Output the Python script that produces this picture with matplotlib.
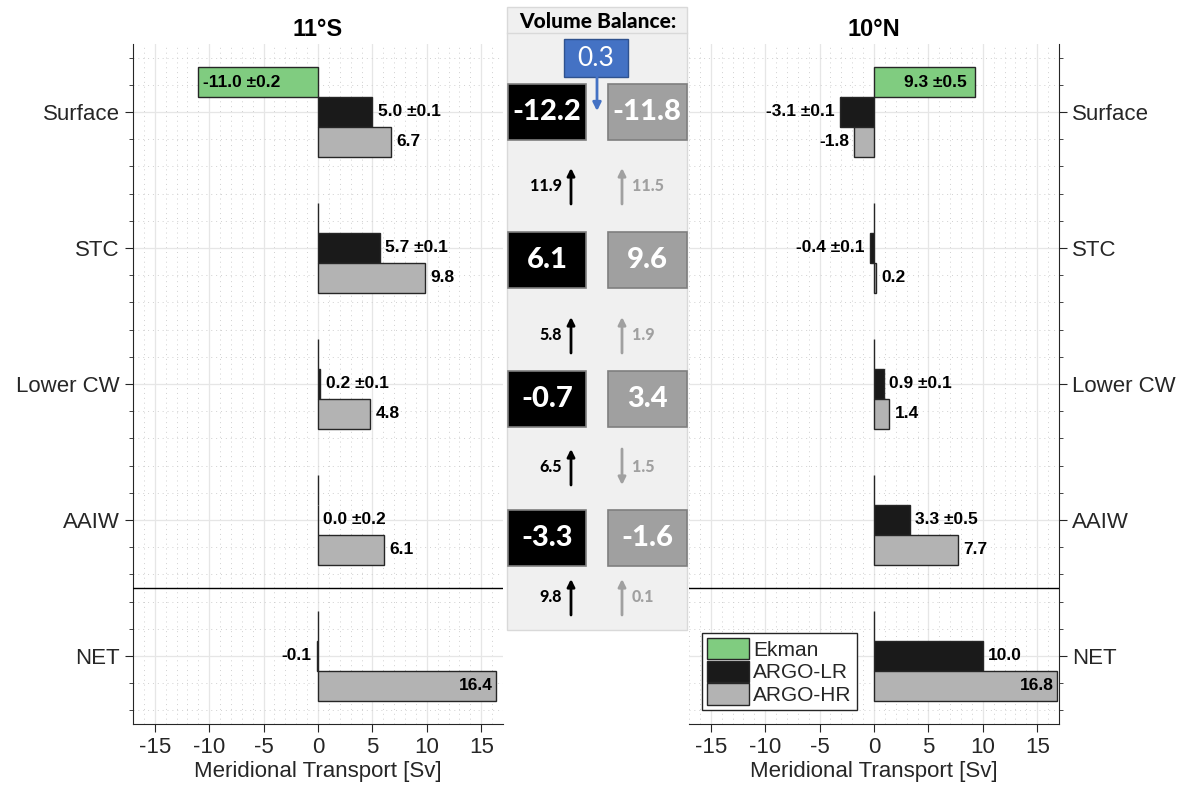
import numpy as np
import matplotlib
matplotlib.use("Agg")
import matplotlib.pyplot as plt
from matplotlib.patches import Rectangle, Patch

plt.rcParams['font.family'] = ['Liberation Sans', 'DejaVu Sans']
plt.rcParams['axes.unicode_minus'] = False

categories = ["Surface", "STC", "Lower CW", "AAIW", "NET"]

# 11°S
ekman_s  = [-11.0, 0, 0, 0, 0]
ekman_s_err = [0.2, None, None, None, None]
lr_s     = [5.0, 5.7, 0.2, 0.0, -0.1]
lr_s_err = [0.1, 0.1, 0.1, 0.2, None]
hr_s     = [6.7, 9.8, 4.8, 6.1, 16.4]

# 10°N
ekman_n  = [9.3, 0, 0, 0, 0]
ekman_n_err = [0.5, None, None, None, None]
lr_n     = [-3.1, -0.4, 0.9, 3.3, 10.0]
lr_n_err = [0.1, 0.1, 0.1, 0.5, None]
hr_n     = [-1.8, 0.2, 1.4, 7.7, 16.8]

# volume balance between layers
box_lr   = [-12.2, 6.1, -0.7, -3.3]
box_hr   = [-11.8, 9.6, 3.4, -1.6]
flux_lr  = [11.9, 5.8, 6.5, 9.8]
flux_hr  = [11.5, 1.9, 1.5, 0.1]
dir_lr   = [1, 1, 1, 1]      # 1 = up, -1 = down
dir_hr   = [1, 1, -1, 1]
ekman_residual = 0.3

C_EK = "#80cc80"
C_LR = "#1a1a1a"
C_HR = "#b3b3b3"
C_TXT = "#262626"

W, H = 1185, 796
fig = plt.figure(figsize=(W / 100, H / 100), dpi=100)
fig.patch.set_facecolor("white")


def fmt(v, e):
    s = f"{v:.1f}"
    if e is not None:
        s += f" ±{e:.1f}"
    return s


def panel(rect, ek, ek_err, lr, lr_err, hr, title, right):
    ax = fig.add_axes(rect)
    y = np.arange(1, len(categories) + 1)
    h = 0.22
    ax.barh(y - h, ek, height=h, color=C_EK, edgecolor=C_TXT, lw=1, zorder=3)
    ax.barh(y, lr, height=h, color=C_LR, edgecolor=C_TXT, lw=1, zorder=3)
    ax.barh(y + h, hr, height=h, color=C_HR, edgecolor=C_TXT, lw=1, zorder=3)

    fs = 12.5
    for yy, v, e in zip(y - h, ek, ek_err):
        if e is None:
            continue
        if v < 0:
            ax.text(v + 0.4, yy, fmt(v, e), ha="left", va="center",
                    fontsize=fs, fontweight="bold", zorder=4)
        else:
            ax.text(v - 0.8, yy, fmt(v, e), ha="right", va="center",
                    fontsize=fs, fontweight="bold", zorder=4)
    for yy, v, e in zip(y, lr, lr_err):
        ha = "left" if v >= 0 else "right"
        off = 0.5 if v >= 0 else -0.5
        ax.text(v + off, yy, fmt(v, e), ha=ha, va="center",
                fontsize=fs, fontweight="bold", zorder=4)
    for yy, v in zip(y + h, hr):
        if abs(v) > 15:
            ax.text(v - 0.3, yy, fmt(v, None), ha="right", va="center",
                    fontsize=fs, fontweight="bold", zorder=4)
        else:
            ha = "left" if v >= 0 else "right"
            off = 0.5 if v >= 0 else -0.5
            ax.text(v + off, yy, fmt(v, None), ha=ha, va="center",
                    fontsize=fs, fontweight="bold", zorder=4)

    ax.axhline(4.5, color="black", lw=1, zorder=5)
    ax.set_xlim(-17, 17)
    ax.set_ylim(5.5, 0.5)
    ax.set_xticks([-15, -10, -5, 0, 5, 10, 15])
    ax.set_xticks(np.arange(-17, 18, 1), minor=True)
    ax.set_yticks(y)
    ax.set_yticks(np.arange(0.6, 5.5, 0.2), minor=True)
    ax.set_yticklabels(categories)
    ax.grid(True, which="major", color="#e6e6e6", lw=0.9, zorder=0)
    ax.grid(True, which="minor", color="#d0d0d0", lw=0.7, ls=(0, (1, 4)), zorder=0)
    ax.set_axisbelow(True)
    ax.tick_params(which="both", direction="out", colors=C_TXT, labelsize=16)
    ax.tick_params(which="major", length=6)
    ax.tick_params(which="minor", length=3)
    ax.tick_params(axis="x", which="minor", length=0)
    ax.spines["top"].set_visible(False)
    if right:
        ax.yaxis.tick_right()
        ax.spines["left"].set_visible(False)
    else:
        ax.spines["right"].set_visible(False)
    for s in ax.spines.values():
        s.set_color(C_TXT)
    ax.set_xlabel("Meridional Transport [Sv]", fontsize=16, color=C_TXT, labelpad=2)
    ax.set_title(title, fontsize=17, fontweight="bold", pad=6)
    return ax


ax_s = panel([133 / W, 1 - 724 / H, 370 / W, 680 / H],
             ekman_s, ekman_s_err, lr_s, lr_s_err, hr_s, "11°S", False)
ax_n = panel([689 / W, 1 - 724 / H, 370 / W, 680 / H],
             ekman_n, ekman_n_err, lr_n, lr_n_err, hr_n, "10°N", True)

handles = [Patch(facecolor=C_EK, edgecolor=C_TXT, label="Ekman"),
           Patch(facecolor=C_LR, edgecolor=C_TXT, label="ARGO-LR"),
           Patch(facecolor=C_HR, edgecolor=C_TXT, label="ARGO-HR")]
leg = ax_n.legend(handles=handles, loc="lower left",
                  bbox_to_anchor=(0.035, 0.02), borderaxespad=0,
                  fontsize=15, fancybox=False, framealpha=1,
                  edgecolor=C_TXT, handlelength=2.0, handleheight=1.2,
                  handletextpad=0.2, labelspacing=0.05, borderpad=0.25)
leg.set_zorder(10)
for t in leg.get_texts():
    t.set_color(C_TXT)

# middle "Volume Balance" panel, drawn in pixel coordinates
ax_m = fig.add_axes([0, 0, 1, 1])
ax_m.set_xlim(0, W)
ax_m.set_ylim(H, 0)
ax_m.axis("off")
mfont = ["Lato", "Open Sans", "DejaVu Sans"]

ax_m.add_patch(Rectangle((507, 7), 180, 623, facecolor="#f0f0f0",
                         edgecolor="#d9d9d9", lw=1))
ax_m.plot([507, 687], [33, 33], color="#d9d9d9", lw=1)
ax_m.text(598, 21, "Volume Balance:", ha="center", va="center",
          fontsize=15, fontweight="black", family=mfont)

ax_m.add_patch(Rectangle((564, 39), 64, 38, facecolor="#4472c4",
                         edgecolor="#2f528f", lw=1, zorder=3))
ax_m.text(596, 58, f"{ekman_residual:.1f}", ha="center", va="center",
          fontsize=19, color="white", family=mfont, zorder=4)
ax_m.annotate("", xy=(597, 111), xytext=(597, 77),
              arrowprops=dict(arrowstyle="-|>", color="#4472c4", lw=2,
                              mutation_scale=12, shrinkA=0, shrinkB=0))

box_y = [112, 260, 399, 538]
for yc, a, b in zip(box_y, box_lr, box_hr):
    ax_m.add_patch(Rectangle((508, yc - 28), 78, 56, facecolor="black",
                             edgecolor="#7f7f7f", lw=1.2))
    ax_m.add_patch(Rectangle((608, yc - 28), 79, 56, facecolor="#a0a0a0",
                             edgecolor="#7f7f7f", lw=1.2))
    ax_m.text(547, yc, f"{a:.1f}", ha="center", va="center", color="white",
              fontsize=21, fontweight="black", family=mfont)
    ax_m.text(647, yc, f"{b:.1f}", ha="center", va="center", color="white",
              fontsize=21, fontweight="black", family=mfont)

arrow_y = [186, 335, 467, 597]
for yc, fa, fb, da, db in zip(arrow_y, flux_lr, flux_hr, dir_lr, dir_hr):
    ax_m.annotate("", xy=(571, yc - 18 * da), xytext=(571, yc + 18 * da),
                  arrowprops=dict(arrowstyle="-|>", color="black", lw=2,
                                  mutation_scale=11, shrinkA=0, shrinkB=0))
    ax_m.annotate("", xy=(622, yc - 18 * db), xytext=(622, yc + 18 * db),
                  arrowprops=dict(arrowstyle="-|>", color="#a0a0a0", lw=2,
                                  mutation_scale=11, shrinkA=0, shrinkB=0))
    ax_m.text(562, yc, f"{fa:.1f}", ha="right", va="center", color="black",
              fontsize=11.5, fontweight="black", family=mfont)
    ax_m.text(632, yc, f"{fb:.1f}", ha="left", va="center", color="#a0a0a0",
              fontsize=11.5, fontweight="black", family=mfont)

fig.savefig("out.png", dpi=100)
